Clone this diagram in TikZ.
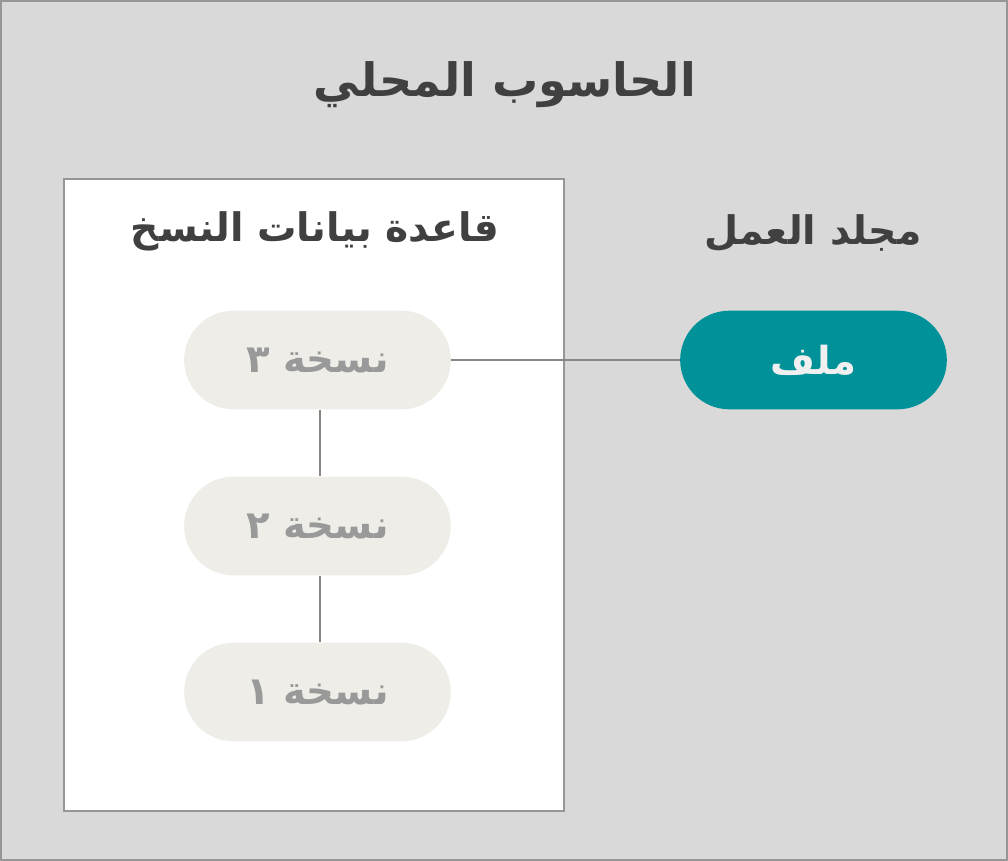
\documentclass[tikz,border=0pt]{standalone}
\usepackage{fontspec}
\usepackage{tikz}
\usetikzlibrary{positioning}
\newfontfamily\arabicfont[Script=Arabic]{DejaVu Sans}
\TeXXeTstate=1
\definecolor{pcgray}{RGB}{217,217,217}
\definecolor{pcborder}{RGB}{150,150,150}
\definecolor{pctext}{RGB}{64,64,64}
\definecolor{verfill}{RGB}{238,237,232}
\definecolor{vertext}{RGB}{153,153,153}
\definecolor{fileteal}{RGB}{0,145,153}
\definecolor{linkgray}{RGB}{140,133,128}
\tikzstyle{heading} = [font=\arabicfont\bfseries\fontsize{29.5}{34}\selectfont, text=pctext]
\tikzstyle{pill} = [rectangle, rounded corners=37pt, minimum width=200pt, minimum height=74pt, inner sep=0pt, font=\arabicfont\bfseries\fontsize{29}{34}\selectfont]
\tikzstyle{version} = [pill, fill=verfill, text=vertext]
\tikzstyle{link} = [line width=1.5pt, color=linkgray]

\begin{document}
\begin{tikzpicture}[x=0.75pt, y=-0.75pt]
\useasboundingbox (0,0) rectangle (1008,861);
% Outer frame
\draw[line width=1.5pt, pcborder, fill=pcgray] (1,1) rectangle (1007,860);
\node[font=\arabicfont\bfseries\fontsize{34.5}{40}\selectfont, text=pctext] (title) at (505,85) {\beginR الحاسوب المحلي\endR};

% Version database
\draw[line width=1.5pt, pcborder, fill=white] (64,179) rectangle (564,811);
\node[heading] (dbtitle) at (315,231) {\beginR قاعدة بيانات النسخ\endR};
\node[version] (v3) at (317.5,360) {\beginR نسخة ٣\endR};
\node[version] (v2) at (317.5,526) {\beginR نسخة ٢\endR};
\node[version] (v1) at (317.5,692) {\beginR نسخة ١\endR};

% Working folder
\node[heading] (wdtitle) at (813,233) {\beginR مجلد العمل\endR};
\node[pill, fill=fileteal, text=white!94!black] (file) at (813.5,360) {\beginR ملف\endR};

% Links
\draw[link] (v3.east) -- (file.west);
\draw[link] ([xshift=1.5pt]v3.south) -- ([xshift=1.5pt]v2.north);
\draw[link] ([xshift=1.5pt]v2.south) -- ([xshift=1.5pt]v1.north);
\end{tikzpicture}
\end{document}
